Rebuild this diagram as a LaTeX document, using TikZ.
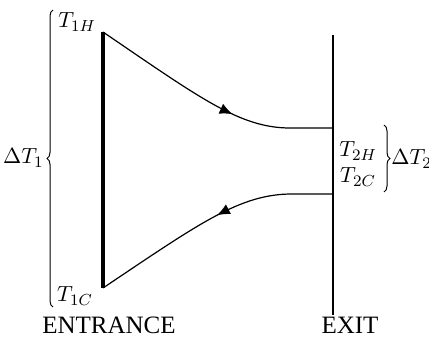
\documentclass[tikz,border=0pt]{standalone}
\usepackage{fontspec}
\setmainfont{Liberation Serif}
\usetikzlibrary{arrows.meta,decorations.pathreplacing,decorations.markings}
\tikzset{>=Stealth,every node/.style={font=\fontsize{12.5}{14}\selectfont,inner sep=1pt},
temp/.style={font=\fontsize{11}{13}\selectfont},
wall/.style={line width=1.6pt},stream/.style={line width=.6pt},
brace/.style={decorate,decoration={brace,amplitude=3pt},line width=.5pt},
fwd/.style={postaction={decorate},decoration={markings,mark=at position #1 with {\arrow{Latex[length=6.5pt,width=5.5pt]}}}},
bwd/.style={postaction={decorate},decoration={markings,mark=at position #1 with {\arrowreversed{Latex[length=6.5pt,width=5.5pt]}}}}}
\begin{document}
\begin{tikzpicture}[x=.5pt,y=.5pt]
\useasboundingbox (0,0) rectangle (429,343);
% walls
\coordinate (inH) at (103,311);\coordinate (inC) at (103,55);
\coordinate (exT) at (333,308);\coordinate (exB) at (333,28);
\coordinate (outH) at (333,215);\coordinate (outC) at (333,149);
\draw[wall] (inC)--(inH);\draw[wall,line width=1.3pt] (exB)--(exT);
% hot and cold streams
\draw[stream,fwd=.6] (inH) .. controls (200,245) and (240,215) .. (290,215) -- (outH);
\draw[stream,bwd=.53] (inC) .. controls (200,120) and (240,149) .. (292,149) -- (outC);
% labels
\node[temp] (t1h) at (77,321) {$T_{1H}$};\node[temp] (t1c) at (75,47) {$T_{1C}$};
\node[temp] (t2h) at (358,192) {$T_{2H}$};\node[temp] (t2c) at (358,166) {$T_{2C}$};
\coordinate (lb) at (53,36);\coordinate (lt) at (53,333);
\coordinate (rt) at (384,218);\coordinate (rb) at (384,151);
\draw[brace] (lb)--(lt);\draw[brace] (rt)--(rb);
\node[temp,left] (d1) at (46,185) {$\Delta T_1$};\node[temp,right,inner sep=0pt] (d2) at (391,184) {$\Delta T_2$};
\node (ent) at (109,18) {ENTRANCE};\node (ext) at (350,18) {EXIT};
\end{tikzpicture}
\end{document}
